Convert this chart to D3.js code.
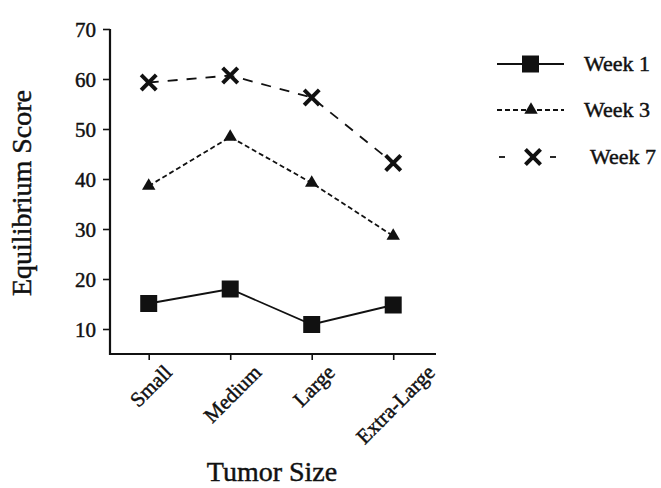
<!DOCTYPE html>
<html>
<head>
<meta charset="utf-8">
<script src="https://cdn.jsdelivr.net/npm/d3@7"></script>
<style>
  html, body { margin: 0; padding: 0; background: #fff; }
  svg { display: block; }
  text { font-family: "Liberation Serif", "Times New Roman", serif; fill: #111; stroke: #111; stroke-width: 0.45px; }
</style>
</head>
<body>
<svg id="chart" width="661" height="488"></svg>
<script>
// Equilibrium score by tumor size, three measurement weeks
const categories = ["Small", "Medium", "Large", "Extra-Large"];
const week1 = [15.1, 18.0, 10.9, 14.8];
const week3 = [38.6, 48.4, 39.2, 28.6];
const week7 = [59.3, 60.7, 56.3, 43.2];
const yTicks = [10, 20, 30, 40, 50, 60, 70];
const seriesNames = ["Week 1", "Week 3", "Week 7"];

const series = [
  { name: seriesNames[0], values: week1, dash: null, symbol: "square" },
  { name: seriesNames[1], values: week3, dash: "5,3", symbol: "triangle" },
  { name: seriesNames[2], values: week7, dash: "10,9", symbol: "times" }
];

const svg = d3.select("#chart");
const ink = "#111";

const x = d3.scalePoint().domain(categories).range([110, 436]).padding(0.5).align(0.475);
const y = d3.scaleLinear().domain([5, 70]).range([354, 29]);

// marker drawing
function drawMarker(g, kind) {
  if (kind === "square") {
    g.append("path").attr("d", d3.symbol(d3.symbolSquare, 17 * 17)()).attr("fill", ink);
  } else if (kind === "triangle") {
    g.append("path").attr("d", d3.symbol(d3.symbolTriangle, 78)()).attr("fill", ink);
  } else {
    g.append("path").attr("d", d3.symbol(d3.symbolTimes, 100)())
      .attr("fill", "none").attr("stroke", ink).attr("stroke-width", 4).attr("stroke-linecap", "square");
  }
}

// y axis
const yAxis = d3.axisLeft(y).tickValues(yTicks).tickSize(7).tickPadding(7);
const gy = svg.append("g").attr("transform", "translate(110,0)").call(yAxis);
gy.select(".domain").remove();
gy.append("line").attr("x1", 0).attr("x2", 0).attr("y1", y(70)).attr("y2", y(5) + 1)
  .attr("stroke", ink).attr("stroke-width", 2.2);
gy.selectAll(".tick line").attr("stroke", ink).attr("stroke-width", 1.6);
gy.selectAll(".tick text").attr("font-size", 21).attr("fill", ink)
  .style("font-family", "'Liberation Serif', serif").attr("dy", "0.34em");

// x axis
const xAxis = d3.axisBottom(x).tickSize(6).tickFormat("");
const gx = svg.append("g").attr("transform", "translate(0,354)").call(xAxis);
gx.select(".domain").remove();
gx.append("line").attr("x1", 109).attr("x2", 436).attr("y1", 0).attr("y2", 0)
  .attr("stroke", ink).attr("stroke-width", 2.2);
gx.selectAll(".tick line").attr("stroke", ink).attr("stroke-width", 1.6);

// rotated category labels, centred under each tick
categories.forEach(c => {
  const t = svg.append("text").attr("font-size", 21).attr("text-anchor", "middle").text(c);
  const L = t.node().getComputedTextLength();
  const cx = x(c) + 2;
  const cy = 365 + L * 0.3536 + 3.5;
  t.attr("transform", `translate(${cx},${cy}) rotate(-45)`).attr("dy", "0.35em");
});

// lines and markers
const line = d3.line().x((d, i) => x(categories[i])).y(d => y(d));
series.forEach(s => {
  svg.append("path").datum(s.values).attr("d", line)
    .attr("fill", "none").attr("stroke", ink).attr("stroke-width", 1.8)
    .attr("stroke-dasharray", s.dash);
  s.values.forEach((v, i) => {
    const g = svg.append("g").attr("transform", `translate(${x(categories[i])},${y(v)})`);
    drawMarker(g, s.symbol);
  });
});

// legend
const legendRows = [64, 110, 157];
const legendText = [584, 584, 590];
series.forEach((s, i) => {
  const g = svg.append("g").attr("transform", `translate(0,${legendRows[i]})`);
  if (i === 2) {
    g.append("line").attr("x1", 499).attr("x2", 505).attr("y1", 0).attr("y2", 0)
      .attr("stroke", ink).attr("stroke-width", 1.8);
    g.append("line").attr("x1", 550).attr("x2", 556).attr("y1", 0).attr("y2", 0)
      .attr("stroke", ink).attr("stroke-width", 1.8);
  } else {
    g.append("line").attr("x1", 497).attr("x2", 564).attr("y1", 0).attr("y2", 0)
      .attr("stroke", ink).attr("stroke-width", 1.8).attr("stroke-dasharray", s.dash);
  }
  const m = g.append("g").attr("transform", `translate(${i === 0 ? 530.5 : i === 1 ? 531 : 533},0)`);
  drawMarker(m, s.symbol);
  g.append("text").attr("x", legendText[i]).attr("y", 7).attr("font-size", 22).text(s.name);
});

// axis titles
svg.append("text").attr("transform", "translate(31,193) rotate(-90)")
  .attr("text-anchor", "middle").attr("font-size", 28).text("Equilibrium Score");
svg.append("text").attr("x", 272).attr("y", 481)
  .attr("text-anchor", "middle").attr("font-size", 28).text("Tumor Size");
</script>
</body>
</html>
